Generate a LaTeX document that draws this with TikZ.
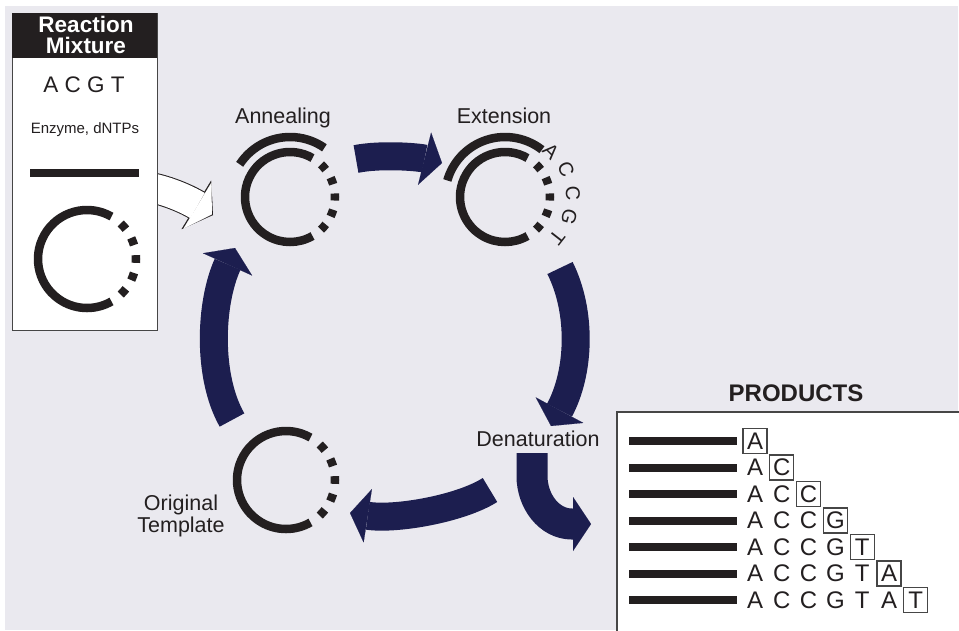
\documentclass[tikz,border=0pt]{standalone}
\usepackage{fontspec}
\setmainfont{Liberation Sans}
\usetikzlibrary{arrows.meta,calc}
\definecolor{navy}{RGB}{28,30,79}
\definecolor{ink}{RGB}{35,31,32}
\definecolor{bg}{RGB}{234,233,239}
\definecolor{boxline}{RGB}{70,70,70}
\tikzset{
  strand/.style={draw=ink,line width=8.5pt},
  cycarrow/.style={draw=navy,line width=28pt,-{Triangle[width=54pt,length=18pt,line width=0.1pt]}},
  stage/.style={font=\fontsize{21.5}{19.5}\selectfont,text=ink,inner sep=0pt,align=center,anchor=base},
  base/.style={font=\fontsize{24}{24}\selectfont,text=ink,inner sep=0pt},
  boxed/.style={base,draw=boxline,line width=1.2pt,minimum width=24pt,minimum height=25pt}
}

\begin{document}
\begin{tikzpicture}[x=1pt,y=-1pt]
                \useasboundingbox (0,0) rectangle (959,630);
                \clip (0,0) rectangle (959,630);
                % draw background
                \fill[bg] (5,6) rectangle (958,630);
                % centres of the circles
                \coordinate (mixC) at (87,259);
                \coordinate (annC) at (290,197);
                \coordinate (extC) at (505,197);
                \coordinate (orgC) at (286,480);
                % ends of the arrows
                \coordinate (mixOut) at (148,187);
                \coordinate (annIn) at (213,215);
                \coordinate (annOut) at (356,159);
                \coordinate (extIn) at (442,163);
                \coordinate (extOut) at (560,268);
                \coordinate (denIn) at (551,426);
                \coordinate (denOut) at (490,490);
                \coordinate (orgIn) at (350,513);
                \coordinate (orgOut) at (232,420);
                \coordinate (annUp) at (235,248);
                \coordinate (denDown) at (532,453);
                \coordinate (prodIn) at (591,524);
                % draw white arrow into the cycle
                \draw[draw=ink,line width=31pt,-{Triangle[width=57pt,length=19.5pt,line width=0.1pt]}]
                  (mixOut) .. controls (170,191) and (190,201) .. (annIn);
                \draw[draw=white,line width=29pt,shorten >=1.2pt,-{Triangle[width=54pt,length=17pt,line width=0.1pt]}]
                  (mixOut) .. controls (170,191) and (190,201) .. (annIn);
                % draw cycle arrows
                \draw[cycarrow] (annOut) .. controls (381,154) and (418,157) .. (extIn);
                \draw[cycarrow] (extOut) .. controls (582,312) and (580,372) .. (denIn);
                \draw[cycarrow] (denOut) .. controls (460,509) and (395,520) .. (orgIn);
                \draw[cycarrow] (orgOut) .. controls (207,376) and (210,303) .. (annUp);
                \draw[cycarrow,line width=31pt] (denDown) -- (532,476) .. controls (532,501) and (549,524) .. (572,524) -- (prodIn);
                % draw reaction mixture box
                \draw[boxline,fill=white,line width=1pt] (12,13) rectangle (157,330);
                \fill[ink] (12,13) rectangle (157,58);
                \node[text=white,font=\bfseries\fontsize{22.5}{21.5}\selectfont,align=center] (mixTitle) at (86,35) {Reaction\\Mixture};
                \node[font=\fontsize{22.5}{22}\selectfont,text=ink] (bases) at (84,85) {A C G T};
                \node[font=\fontsize{15}{15}\selectfont,text=ink] (enzyme) at (85,130) {Enzyme, dNTPs};
                \draw[strand,line width=8pt] (30,173) -- (139,173);
                % draw template circles
                \foreach \c/\r in {mixC/49,annC/45,extC/45,orgC/49} {
                  \draw[strand] ([shift={(60:\r pt)}]\c) arc[start angle=60,end angle=300,radius=\r pt];
                  \foreach \a in {-42,-21,0,21,42}
                  \draw[strand] ([shift={(\a-4.5:\r pt)}]\c) arc[start angle=\a-4.5,end angle=\a+4.5,radius=\r pt];
                }
                % draw primers
                \draw[strand] ([shift={(55:60pt)}]annC) arc[start angle=55,end angle=147,radius=60pt];
                \draw[strand] ([shift={(52:60pt)}]extC) arc[start angle=52,end angle=164,radius=60pt];
                % draw added bases
                \foreach \lt/\a/\r [count=\i] in {A/45/65,C/24/67,C/3/68,G/-17/67,T/-38/66}
                \node[font=\fontsize{20}{20}\selectfont,text=ink,inner sep=0pt,rotate=\a-90] (new\i) at ([shift={(\a:\r pt)}]extC) {\lt};
                % draw stage labels
                \node[stage] (annLabel) at (283,123) {Annealing};
                \node[stage] (extLabel) at (504,123) {Extension};
                \node[stage] (denLabel) at (538,446) {Denaturation};
                \node[stage] (orgLabel) at (181,532) {Original\\Template};
                % draw products box
                \draw[boxline,fill=white,line width=1.2pt] (617,412) rectangle (975,640);
                \node[font=\bfseries\fontsize{24}{24}\selectfont,text=ink] (prodLabel) at (796,393) {PRODUCTS};
                \foreach \lt [count=\r from 0] in {A,C,C,G,T,A,T} {
                  \coordinate (row\r) at (629,{441+26.5*\r});
                  \draw[strand,line width=8pt] (row\r) -- ++(108,0);
                  \node[boxed] (box\r) at ({755+26.8*\r},{441+26.5*\r}) {\lt};
                  \foreach \pl [count=\k from 0] in {A,C,C,G,T,A} {
                    \ifnum\k<\r \node[base] (seq\r-\k) at ({755+26.8*\k},{441+26.5*\r}) {\pl}; \fi
                  }
                }
\end{tikzpicture}
\end{document}
